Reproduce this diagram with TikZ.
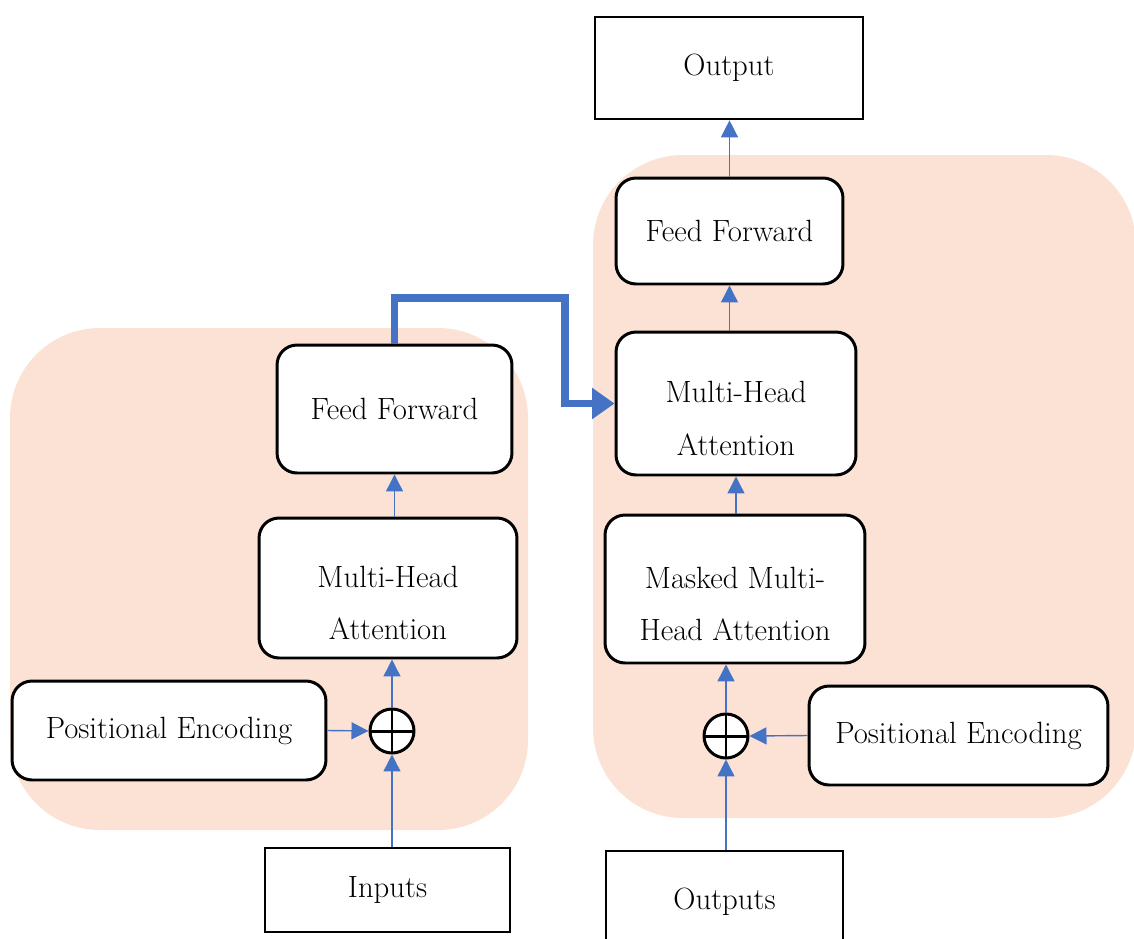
\documentclass[tikz,border=0pt]{standalone}
\usetikzlibrary{arrows.meta}
\definecolor{encbg}{HTML}{FBE2D5}
\definecolor{arrblue}{HTML}{4472C4}
\newcommand{\topgap}{\rule{0pt}{29pt}}
\tikzset{
  block/.style={draw, line width=1.7pt, rounded corners=0.4cm, fill=white, align=center, font=\fontsize{17.5}{30}\selectfont},
  plainbox/.style={draw, line width=1.5pt, fill=white, font=\fontsize{17.5}{30}\selectfont},
  addop/.style={draw, circle, line width=1.7pt, fill=white, minimum size=0.88cm, inner sep=0pt,
    path picture={\draw[line width=1.7pt] (path picture bounding box.north) -- (path picture bounding box.south)
      (path picture bounding box.west) -- (path picture bounding box.east);}},
  arr/.style={arrblue, line width=0.8pt, -{Triangle[length=0.34cm, width=0.34cm]}},
  crossarr/.style={arrblue, line width=4.5pt, line join=miter, -{Triangle[length=0.45cm, width=0.6cm]}}
}
\begin{document}
\begin{tikzpicture}[x=0.02cm, y=-0.02cm]
\useasboundingbox (0,0) rectangle (1134,938);
% encoder and decoder backgrounds
\fill[encbg, rounded corners=1.8cm] (10,328) rectangle (528,830);
\fill[encbg, rounded corners=1.8cm] (593,155) rectangle (1136,818);
% encoder
\node[plainbox, minimum width=4.9cm, minimum height=1.68cm] (inputs) at (387.5,890) {Inputs};
\node[addop] (addL) at (392,731) {};
\node[block, minimum width=6.28cm, minimum height=1.98cm] (posL) at (169,730.5) {Positional Encoding};
\node[block, minimum width=5.16cm, minimum height=2.8cm] (attL) at (388,588) {\topgap Multi-Head\\Attention};
\node[block, minimum width=4.7cm, minimum height=2.56cm] (ffL) at (394.5,409) {Feed Forward};
% decoder
\node[plainbox, minimum width=4.74cm, minimum height=2.02cm] (outputs) at (724.5,901.5) {Outputs};
\node[addop] (addR) at (726,736) {};
\node[block, minimum width=5.98cm, minimum height=1.98cm] (posR) at (958.5,735.5) {Positional Encoding};
\node[block, minimum width=5.2cm, minimum height=2.96cm] (maskR) at (735,589) {\topgap Masked Multi-\\Head Attention};
\node[block, minimum width=4.8cm, minimum height=2.86cm] (attR) at (736,403.5) {\topgap Multi-Head\\Attention};
\node[block, minimum width=4.54cm, minimum height=2.12cm] (ffR) at (729.5,231) {Feed Forward};
\node[plainbox, minimum width=5.36cm, minimum height=2.04cm] (output) at (729,68) {Output};
% encoder arrows
\draw[arr] (inputs.north -| addL) -- (addL.south);
\draw[arr] (posL.east) -- (addL.west);
\draw[arr] (addL.north) -- (addL.north |- attL.south);
\draw[arr] (ffL.south |- attL.north) -- (ffL.south);
% decoder arrows
\draw[arr] (outputs.north -| addR) -- (addR.south);
\draw[arr] (posR.west) -- (addR.east);
\draw[arr] (addR.north) -- (addR.north |- maskR.south);
\draw[arr] (attR.south |- maskR.north) -- (attR.south);
\draw[arr] (ffR.south |- attR.north) -- (ffR.south);
\draw[arr] (ffR.north) -- (ffR.north |- output.south);
% encoder to decoder
\coordinate (bend) at (565,298);
\draw[crossarr] (ffL.north) |- (bend) |- (attR.west);
\end{tikzpicture}
\end{document}
